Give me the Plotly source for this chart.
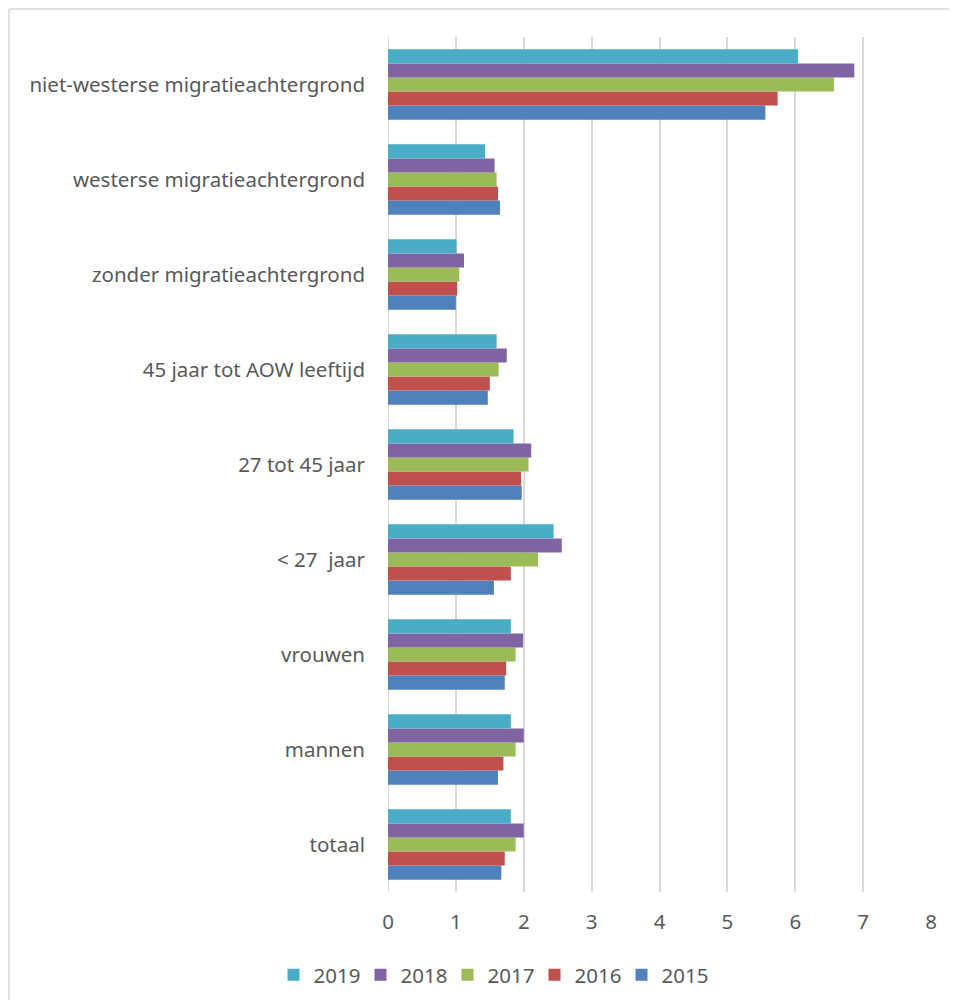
import plotly.graph_objects as go

categories = ["totaal", "mannen", "vrouwen", "< 27  jaar", "27 tot 45 jaar",
              "45 jaar tot AOW leeftijd", "zonder migratieachtergrond",
              "westerse migratieachtergrond", "niet-westerse migratieachtergrond"]
years = ["2015", "2016", "2017", "2018", "2019"]
v2015 = [1.67, 1.62, 1.72, 1.56, 1.97, 1.47, 1.00, 1.65, 5.56]
v2016 = [1.72, 1.70, 1.74, 1.81, 1.96, 1.50, 1.02, 1.62, 5.74]
v2017 = [1.88, 1.88, 1.88, 2.21, 2.07, 1.63, 1.05, 1.60, 6.57]
v2018 = [2.00, 2.00, 1.99, 2.56, 2.11, 1.75, 1.12, 1.57, 6.87]
v2019 = [1.81, 1.81, 1.81, 2.44, 1.85, 1.60, 1.01, 1.43, 6.04]
values = [v2015, v2016, v2017, v2018, v2019]
colors = ["#4F81BD", "#C0504D", "#9BBB59", "#8064A2", "#4BACC6"]

fig = go.Figure()
for yr, vals, col in zip(years, values, colors):
    fig.add_trace(go.Bar(y=categories, x=vals, name=yr, orientation="h",
                         marker=dict(color=col, line=dict(width=0))))

FONT = "Noto Sans"
GRAY = "#595959"
FS = 20.5
W, H = 941, 992
fig.update_layout(
    width=W, height=H,
    margin=dict(l=380, r=18, t=29, b=108),
    paper_bgcolor="white", plot_bgcolor="white",
    barmode="group", bargap=0.26, bargroupgap=0,
    font=dict(family=FONT, size=FS, color=GRAY),
    xaxis=dict(range=[0, 8], dtick=1, showgrid=True, gridcolor="#d9d9d9", gridwidth=2,
               zeroline=False, showline=False, ticks="", tickfont=dict(size=FS, color=GRAY),
               ticklabelstandoff=15, automargin=False),
    yaxis=dict(showgrid=False, zeroline=False, showline=False, ticks="",
               tickfont=dict(size=FS, color=GRAY), ticklabelstandoff=22,
               categoryorder="array", categoryarray=categories, automargin=False),
    legend=dict(orientation="h", traceorder="reversed",
                xref="container", x=483 / W, xanchor="center",
                yref="container", y=1 - 967 / H, yanchor="middle",
                font=dict(size=FS, color=GRAY),
                itemwidth=30, entrywidth=42, entrywidthmode="pixels"),
    showlegend=True,
    shapes=[
        dict(type="line", xref="paper", yref="paper", x0=-0.6980, x1=-0.6980,
             y0=-0.3, y1=1.0327, line=dict(color="#d9d9d9", width=1.5), layer="below"),
        dict(type="line", xref="paper", yref="paper", x0=-0.6980, x1=1.3,
             y0=1.0327, y1=1.0327, line=dict(color="#d9d9d9", width=1.5), layer="below"),
    ],
)
fig.add_shape(type="line", xref="x", yref="paper", x0=0, x1=0, y0=0, y1=1,
              line=dict(color="#d9d9d9", width=2), layer="below")
fig.write_html("out.html")
